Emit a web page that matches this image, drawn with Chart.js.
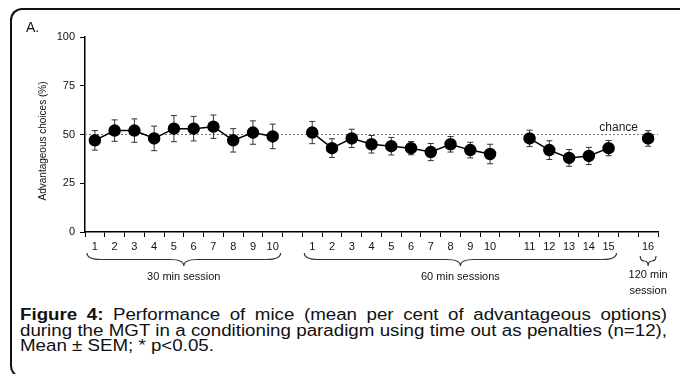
<!DOCTYPE html>
<html>
<head>
<meta charset="utf-8">
<script src="https://cdn.jsdelivr.net/npm/chart.js@4"></script>
<style>
  html, body { margin: 0; padding: 0; background: #fff; }
  body { width: 680px; height: 374px; position: relative; overflow: hidden; font-family: "Liberation Sans", Arial, sans-serif; }
  #frame { position: absolute; left: 10px; top: 8px; width: 670px; height: 370px; border: 2px solid #111; border-right: none; border-radius: 12px 0 0 12px; box-sizing: border-box; }
  #wrap { position: absolute; left: 0; top: 0; width: 680px; height: 300px; }
  #panel { position: absolute; left: 26px; top: 19px; font-size: 14px; color: #111; }
  #caption { position: absolute; left: 20px; top: 307px; width: 553px; font-size: 16px; line-height: 15.7px; color: #111; transform: scaleX(1.17); transform-origin: left top; }
  #caption div { white-space: nowrap; }
  #caption div.j { text-align: justify; text-align-last: justify; }
</style>
</head>
<body>
<div id="frame"></div>
<div id="wrap"><canvas id="mgtChart" width="680" height="300"></canvas></div>
<div id="panel">A.</div>
<div id="caption">
  <div class="j"><b>Figure 4:</b> Performance of mice (mean per cent of advantageous options)</div>
  <div class="j">during the MGT in a conditioning paradigm using time out as penalties (n=12),</div>
  <div>Mean ± SEM; * p&lt;0.05.</div>
</div>
<script>
// session labels (empty strings are the gaps between groups)
const xLabels = ['1','2','3','4','5','6','7','8','9','10','',
                 '1','2','3','4','5','6','7','8','9','10','',
                 '11','12','13','14','15','',
                 '16'];

// mean % advantageous choices
const sessions30 = [47, 52, 52, 48, 53, 53, 54, 47, 51, 49];
const sessions60 = [51, 43, 48, 45, 44, 43, 41, 45, 42, 40, 48, 42, 38, 39, 43];
const session120 = [48];

// SEM
const sem30 = [5, 5.5, 6, 6.3, 6.7, 6.3, 6, 6, 6, 6.3];
const sem60 = [5.7, 4.8, 4.7, 4.5, 4.5, 3.4, 4.4, 4, 4, 5, 4.2, 4.8, 4.3, 4.4, 3.9];
const sem120 = [4];

const yTicks = [0, 25, 50, 75, 100];
const chanceLevel = 50;

// brace groups: first and last category index
const groups = [
  { from: 0, to: 9, text: ['30 min session'] },
  { from: 11, to: 26, text: ['60 min sessions'] },
  { from: 28, to: 28, text: ['120 min', 'session'] }
];

const means = [...sessions30, null, ...sessions60.slice(0, 10), null, ...sessions60.slice(10), null, ...session120];
const sems = [...sem30, null, ...sem60.slice(0, 10), null, ...sem60.slice(10), null, ...sem120];

const FONT = '"Liberation Sans", Arial, sans-serif';

const extras = {
  id: 'extras',
  beforeDatasetsDraw(chart) {
    const { ctx, chartArea, scales: { x, y } } = chart;
    // chance line
    const yc = y.getPixelForValue(chanceLevel);
    ctx.save();
    ctx.strokeStyle = '#777';
    ctx.lineWidth = 1;
    ctx.setLineDash([2, 2]);
    ctx.beginPath();
    ctx.moveTo(chartArea.left, yc);
    ctx.lineTo(chartArea.right, yc);
    ctx.stroke();
    ctx.setLineDash([]);
    ctx.fillStyle = '#222';
    ctx.font = '12px ' + FONT;
    ctx.textAlign = 'right';
    ctx.textBaseline = 'bottom';
    ctx.fillText('chance', 638, yc - 1);

    // error bars
    ctx.strokeStyle = '#333';
    ctx.lineWidth = 1;
    means.forEach((m, i) => {
      if (m === null) return;
      const px = x.getPixelForValue(i);
      const top = y.getPixelForValue(m + sems[i]);
      const bot = y.getPixelForValue(m - sems[i]);
      ctx.beginPath();
      ctx.moveTo(px, top); ctx.lineTo(px, bot);
      ctx.moveTo(px - 3, top); ctx.lineTo(px + 3, top);
      ctx.moveTo(px - 3, bot); ctx.lineTo(px + 3, bot);
      ctx.stroke();
    });
    ctx.restore();
  },
  afterDraw(chart) {
    const { ctx, scales: { x, y } } = chart;
    const slot = x.width / xLabels.length;
    ctx.save();
    // y axis title
    ctx.fillStyle = '#111';
    ctx.font = '10px ' + FONT;
    ctx.textAlign = 'center';
    ctx.textBaseline = 'middle';
    ctx.translate(43, 141);
    ctx.rotate(-Math.PI / 2);
    ctx.scale(1, 1.15);
    ctx.fillText('Advantageous choices (%)', 0, 0);
    ctx.restore();

    // braces and group names
    ctx.save();
    ctx.strokeStyle = '#333';
    ctx.lineWidth = 1.2;
    groups.forEach(g => {
      const x1 = x.getPixelForValue(g.from) - slot / 2 + 2;
      const x2 = x.getPixelForValue(g.to) + slot / 2 - 2;
      const mid = (x1 + x2) / 2;
      const small = g.from === g.to;
      const y0 = small ? 256 : 253;
      const h = small ? 10 : 13;
      const r = small ? 4 : 14;
      const ym = y0 + h * 0.5;
      ctx.beginPath();
      ctx.moveTo(x1, y0);
      ctx.quadraticCurveTo(x1, ym, x1 + r, ym);
      ctx.lineTo(mid - r, ym);
      ctx.quadraticCurveTo(mid, ym, mid, y0 + h);
      ctx.quadraticCurveTo(mid, ym, mid + r, ym);
      ctx.lineTo(x2 - r, ym);
      ctx.quadraticCurveTo(x2, ym, x2, y0);
      ctx.stroke();
      ctx.fillStyle = '#111';
      ctx.font = '11px ' + FONT;
      ctx.textAlign = 'center';
      ctx.textBaseline = 'middle';
      if (small) {
        ctx.fillText(g.text[0], mid, 275);
        ctx.fillText(g.text[1], mid, 291);
      } else {
        ctx.fillText(g.text[0], mid, 277);
      }
    });
    ctx.restore();
  }
};

new Chart(document.getElementById('mgtChart').getContext('2d'), {
  type: 'line',
  data: {
    labels: xLabels,
    datasets: [{
      data: means,
      borderColor: '#000',
      borderWidth: 1.5,
      pointRadius: 5.5,
      pointHoverRadius: 5.5,
      pointBackgroundColor: '#000',
      pointBorderColor: '#000',
      spanGaps: false,
      tension: 0
    }]
  },
  options: {
    responsive: false,
    devicePixelRatio: 1,
    animation: false,
    layout: { padding: { left: 0, right: 22, top: 37, bottom: 0 } },
    plugins: { legend: { display: false }, tooltip: { enabled: false } },
    scales: {
      x: {
        type: 'category',
        offset: true,
        grid: { offset: true, drawOnChartArea: false, drawTicks: true, tickLength: 5, color: '#000' },
        border: { color: '#000', width: 1.5 },
        ticks: { autoSkip: false, maxRotation: 0, color: '#111', font: { size: 11, family: FONT }, padding: 3 },
        afterFit(scale) { scale.height = 300 - 232; }
      },
      y: {
        min: 0,
        max: 100,
        afterBuildTicks(scale) { scale.ticks = yTicks.map(v => ({ value: v })); },
        grid: { drawOnChartArea: false, drawTicks: true, tickLength: 5, color: '#000' },
        border: { color: '#000', width: 1.5 },
        ticks: { color: '#111', font: { size: 11, family: FONT }, padding: 5 },
        afterFit(scale) { scale.width = 85; }
      }
    }
  },
  plugins: [extras]
});
</script>
</body>
</html>
